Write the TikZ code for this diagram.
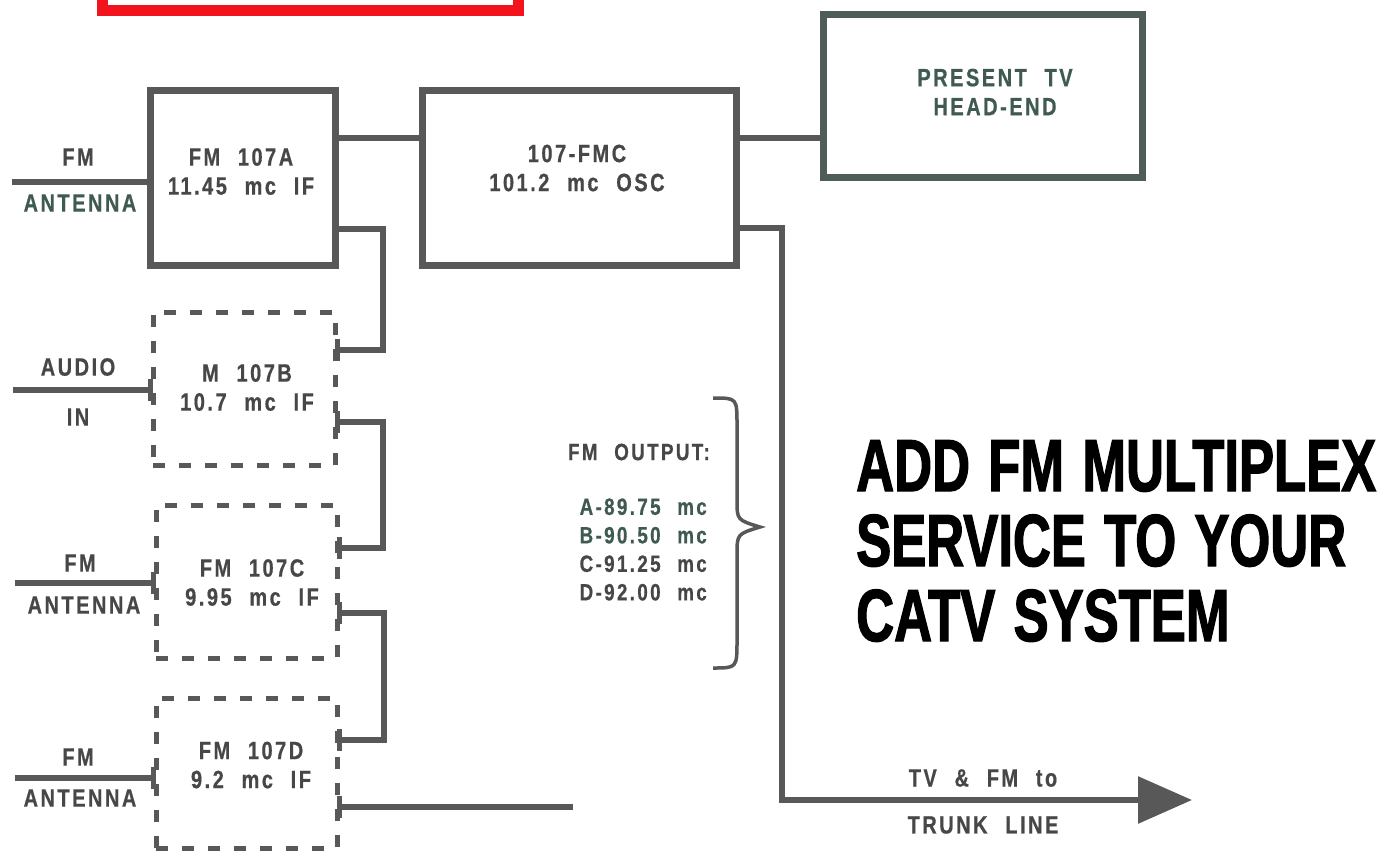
\documentclass[tikz,border=0pt]{standalone}
\usepackage{fontspec}
\usetikzlibrary{arrows.meta,calc}
\newfontfamily\labfont{Liberation Sans}[FakeStretch=0.8,LetterSpace=10,WordSpace=2.2,FakeBold=0.6]
\newfontfamily\bigfont{Liberation Sans}[FakeStretch=0.71,FakeBold=1.6,WordSpace=1.25]
\definecolor{ink}{HTML}{474747}
\definecolor{inkgreen}{HTML}{3F5A50}
\definecolor{wirec}{HTML}{585858}
\definecolor{headc}{HTML}{4F5D57}
\definecolor{redbox}{HTML}{F2131D}
\begin{document}
\begin{tikzpicture}[x=1pt,y=-1pt,
  solidbox/.style={draw=wirec, line width=7pt, inner sep=0pt},
  dashbox/.style={draw=wirec, line width=5pt, dash pattern=on 12pt off 14pt, inner sep=0pt},
  wire/.style={draw=wirec, line width=6pt},
  tick/.style={draw=wirec, line width=5pt},
  lbl/.style={text=ink, font=\labfont\bfseries\fontsize{25}{29}\selectfont, align=center, inner sep=0pt},
  smalllbl/.style={text=ink, font=\labfont\bfseries\fontsize{23.5}{28.5}\selectfont, inner sep=0pt},
  bigtxt/.style={text=black, font=\bigfont\bfseries\fontsize{74}{75}\selectfont, align=left, inner sep=0pt}
]
\useasboundingbox (0,0) rectangle (1388,851);
\clip (0,0) rectangle (1388,851);

% red frame (partly off the page)
\draw[draw=redbox, line width=11pt] (102,-10) -- (102,11) -- (518,11) -- (518,-10);

% boxes
\node[solidbox, minimum width=185pt, minimum height=175pt] (A) at (242.5,177.5) {};
\node[dashbox, minimum width=182pt, minimum height=153pt] (B) at (244,388.5) {};
\node[dashbox, minimum width=181pt, minimum height=153pt] (C) at (246.5,581.5) {};
\node[dashbox, minimum width=181pt, minimum height=150pt] (D) at (246.5,773) {};
\node[solidbox, minimum width=314pt, minimum height=175pt] (FMC) at (579,177.5) {};
\node[solidbox, draw=headc, minimum width=319pt, minimum height=162pt] (HEAD) at (982.5,96) {};

% box texts
\node[lbl] (tA) at (241,171.5) {FM 107A\\11.45 mc IF};
\node[lbl] (tB) at (247,387.5) {M 107B\\10.7 mc IF};
\node[lbl] (tC) at (252,582.5) {FM 107C\\9.95 mc IF};
\node[lbl] (tD) at (251,765) {FM 107D\\9.2 mc IF};
\node[lbl] (tFMC) at (577,168) {107-FMC\\101.2 mc OSC};
\node[lbl, text=inkgreen] (tHEAD) at (995,92) {PRESENT TV\\HEAD-END};

% inputs
\coordinate (inA) at (12,182);
\coordinate (inB) at (13,390);
\coordinate (inC) at (15,583);
\coordinate (inD) at (15,778);
\draw[wire] (inA) -- (inA -| A.west);
\draw[wire] (inB) -- (inB -| B.west);
\draw[wire] (inC) -- (inC -| C.west);
\draw[wire] (inD) -- (inD -| D.west);
\draw[tick] (inB -| B.west) ++(0,-11) -- ++(0,22);
\draw[tick] (inC -| C.west) ++(0,-11) -- ++(0,22);
\draw[tick] (inD -| D.west) ++(0,-11) -- ++(0,22);

\node[lbl, text=ink] (l1a) at (78,157) {FM};
\node[lbl, text=inkgreen] (l1b) at (80,203) {ANTENNA};
\node[lbl] (l2a) at (78,367) {AUDIO};
\node[lbl] (l2b) at (78,417) {IN};
\node[lbl] (l3a) at (80,563) {FM};
\node[lbl] (l3b) at (84,605) {ANTENNA};
\node[lbl] (l4a) at (78,757) {FM};
\node[lbl] (l4b) at (80,798) {ANTENNA};

% top connections
\coordinate (a1) at ([yshift=39.5pt]A.east);
\draw[wire] (a1) -- (a1 -| FMC.west);
\coordinate (f1) at ([yshift=39.5pt]FMC.east);
\draw[wire] (f1) -- (f1 -| HEAD.west);

% cascade
\coordinate (a2) at ([yshift=-51.5pt]A.east);
\coordinate (b1) at ([yshift=38.5pt]B.east);
\draw[wire] (a2) -- ++(44,0) |- (b1);
\coordinate (b2) at ([yshift=-33.5pt]B.east);
\coordinate (c1) at ([yshift=33.5pt]C.east);
\draw[wire] (b2) -- ++(45,0) |- (c1);
\coordinate (c2) at ([yshift=-31.5pt]C.east);
\coordinate (d1) at ([yshift=33pt]D.east);
\draw[wire] (c2) -- ++(44,0) |- (d1);
\coordinate (d2) at ([yshift=-34pt]D.east);
\coordinate (dout) at (573,807);
\draw[wire] (d2) -- (dout);
\foreach \p in {b1,b2,c1,c2,d1,d2}{
  \draw[tick] (\p) ++(0,-11) -- ++(0,22);
}

% trunk line
\coordinate (f2) at ([yshift=-50.5pt]FMC.east);
\coordinate (tip) at (1192,800);
\draw[wire, -{Triangle[length=54pt,width=46pt]}] (f2) -- ++(42,0) |- (tip);
\node[lbl] (tv1) at (983,778) {TV \& FM to};
\node[lbl] (tv2) at (983,825) {TRUNK LINE};

% FM output list
\node[smalllbl, anchor=east] (outT) at (710,452) {FM OUTPUT:};
\node[smalllbl, anchor=east, align=right] (outL) at (707,549.5)
  {\textcolor{inkgreen}{A-89.75 mc}\\\textcolor{inkgreen}{B-90.50 mc}\\C-91.25 mc\\D-92.00 mc};
\draw[draw=wirec, line width=3.5pt]
  (713,398) .. controls (737,398) .. (737,425) -- (737,500)
  .. controls (737,520) .. (760,527)
  .. controls (737,534) .. (737,555) -- (737,640)
  .. controls (737,668) .. (713,668);

% headline
\node[bigtxt, anchor=north west] (title) at (856,440) {ADD FM MULTIPLEX\\SERVICE TO YOUR\\CATV SYSTEM};
\end{tikzpicture}
\end{document}
